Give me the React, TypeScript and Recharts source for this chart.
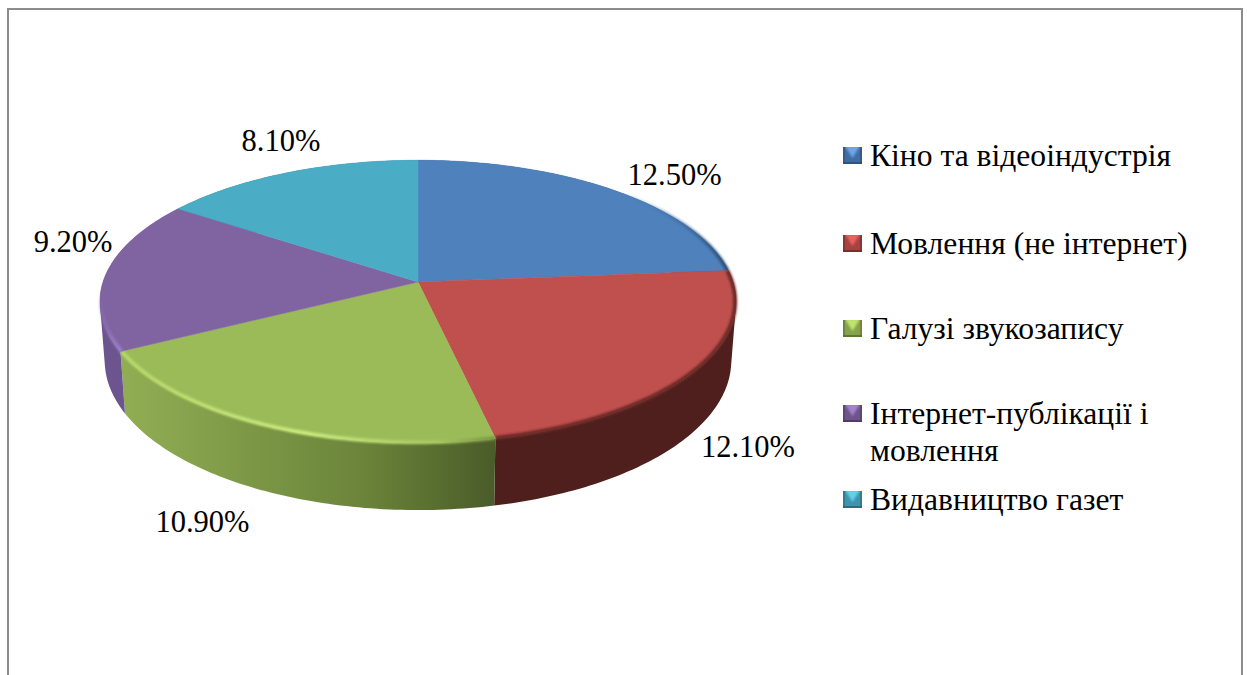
import { Legend, Pie, PieChart } from "recharts";

const categories = [
  "Кіно та відеоіндустрія",
  "Мовлення (не інтернет)",
  "Галузі звукозапису",
  "Інтернет-публікації і мовлення",
  "Видавництво газет",
];
const values = [12.5, 12.1, 10.9, 9.2, 8.1];
const colors = ["#4f81bd", "#c0504d", "#9bbb59", "#8064a2", "#4bacc6"];
const wallFills = ["#2c4a70", "#4f1f1d", "url(#wallGreen)", "#6c558f", "#2f7286"];
const rimStrokes = ["url(#rimBlue)", "#6b2a27", "url(#rimGreen)", "url(#rimPurple)", "none"];
const markerShades = [
  ["#6ea6e4", "#3f6ca3", "#2f5280", "#34598a"],
  ["#e8625e", "#a54340", "#7a2d2b", "#8a3533"],
  ["#bfe470", "#86a24b", "#5f7533", "#6e873c"],
  ["#a383cc", "#6d558b", "#4f3d67", "#5a4774"],
  ["#62d0ee", "#3f93aa", "#2b6c80", "#327c92"],
];
// label offset from the rim point at each slice's middle angle
const labelOffsets = [
  [63, -14],
  [54, 75],
  [-64, 96],
  [-33, -32],
  [-7, -32],
];
const legendTops = [137, 225, 310, 395, 481];

const table = categories.map((name, i) => ({ name, value: values[i], fill: colors[i] }));

const FONT = "'Liberation Serif', 'Times New Roman', serif";
const TILT = 0.44;
const PERSPECTIVE = 0.138;
const DEPTH = 58;
const BOTTOM_SHRINK = 0.985;

type Pt = { x: number; y: number };

// maps a point on the flat disc to the tilted picture plane
function project(cx: number, cy: number, r: number, angle: number) {
  const rad = (angle * Math.PI) / 180;
  const u = Math.cos(rad);
  const v = -Math.sin(rad);
  const w = 1 - PERSPECTIVE * v;
  return { x: cx + (r * u) / w, y: cy + (r * TILT * v) / w, w };
}

function arcPoints(cx: number, cy: number, r: number, start: number, end: number) {
  const steps = Math.max(2, Math.ceil(Math.abs(end - start)));
  const pts = [];
  for (let i = 0; i <= steps; i++) pts.push(project(cx, cy, r, start + ((end - start) * i) / steps));
  return pts;
}

const toPath = (pts: Pt[]) =>
  pts.map((p, i) => `${i ? "L" : "M"}${p.x.toFixed(2)} ${p.y.toFixed(2)}`).join(" ");

// same winding for every quad, so they merge under the nonzero rule
function wound(quad: Pt[]) {
  let area = 0;
  quad.forEach((p, i) => {
    const q = quad[(i + 1) % quad.length];
    area += p.x * q.y - q.x * p.y;
  });
  return area < 0 ? [...quad].reverse() : quad;
}

function WallSlice(props: any) {
  const { cx, cy, outerRadius, startAngle, endAngle, index } = props;
  const top = arcPoints(cx, cy, outerRadius, startAngle, endAngle);
  const bottom = top.map((p) => ({ x: cx + (p.x - cx) * BOTTOM_SHRINK, y: p.y + DEPTH / p.w }));
  const d = top
    .slice(1)
    .map((p, i) => toPath(wound([top[i], p, bottom[i + 1], bottom[i]])) + " Z")
    .join(" ");
  return <path d={d} fill={wallFills[index]} fillRule="nonzero" />;
}

function TopSlice(props: any) {
  const { cx, cy, outerRadius, startAngle, endAngle, index, fill } = props;
  const rim = arcPoints(cx, cy, outerRadius, startAngle, endAngle);
  const d = `M${cx} ${cy} ` + toPath(rim).replace("M", "L") + " Z";
  return (
    <g>
      <path d={d} fill={fill} stroke={fill} strokeWidth={0.5} />
      {rimStrokes[index] !== "none" && (
        <path
          d={toPath(arcPoints(cx, cy, outerRadius - 1, startAngle, endAngle))}
          fill="none"
          stroke={rimStrokes[index]}
          strokeWidth={4}
          filter="url(#soft)"
        />
      )}
    </g>
  );
}

function PercentLabel(props: any) {
  const { cx, cy, outerRadius, midAngle, index, value } = props;
  const p = project(cx, cy, outerRadius, midAngle);
  const [dx, dy] = labelOffsets[index];
  return (
    <text
      x={p.x + dx}
      y={p.y + dy}
      textAnchor="middle"
      dominantBaseline="central"
      fontFamily={FONT}
      fontSize={30.5}
      fill="#000"
    >
      {value.toFixed(2)}%
    </text>
  );
}

function Marker({ id, shades }: { id: number; shades: string[] }) {
  const blur = `markerBlur${id}`;
  return (
    <svg width={19} height={17} style={{ display: "block" }}>
      <defs>
        <filter id={blur} x="-20%" y="-20%" width="140%" height="140%">
          <feGaussianBlur stdDeviation={1} />
        </filter>
      </defs>
      <rect width={19} height={17} fill={shades[1]} />
      <polygon points="2,-1 17,-1 9.5,11" fill={shades[0]} filter={`url(#${blur})`} />
      <rect x={0} y={0} width={2} height={17} fill={shades[3]} />
      <rect x={17} y={0} width={2} height={17} fill={shades[3]} />
      <rect x={0} y={15} width={19} height={2} fill={shades[2]} />
    </svg>
  );
}

function LegendList({ payload }: any) {
  const rows = (payload || []).filter((entry: any) => entry.type !== "none");
  return (
    <div style={{ position: "relative", width: 0, height: 0 }}>
      {rows.map((entry: any, i: number) => (
        <div key={i} style={{ position: "absolute", left: 0, top: legendTops[i] - 136, display: "flex" }}>
          <div style={{ marginTop: 10, marginRight: 8 }}>
            <Marker id={i} shades={markerShades[i]} />
          </div>
          <div
            style={{
              width: 345,
              fontFamily: FONT,
              fontSize: 31.6,
              lineHeight: "37px",
              color: "#000",
            }}
          >
            {entry.value}
          </div>
        </div>
      ))}
    </div>
  );
}

export default function App() {
  return (
    <div
      style={{
        position: "absolute",
        left: 0,
        top: 0,
        width: 1247,
        height: 675,
        overflow: "hidden",
        background: "#fff",
      }}
    >
      <div
        style={{
          position: "absolute",
          left: 7,
          top: 8,
          width: 1232,
          height: 700,
          border: "2px solid #8c8c8c",
        }}
      />
      <PieChart
        width={1247}
        height={675}
        margin={{ top: 0, right: 0, bottom: 0, left: 0 }}
        style={{ position: "absolute", left: 0, top: 0 }}
      >
        <defs>
          <linearGradient id="wallGreen" gradientUnits="userSpaceOnUse" x1={120} y1={0} x2={494} y2={0}>
            <stop offset="0" stopColor="#92ae54" />
            <stop offset="0.35" stopColor="#7c9846" />
            <stop offset="0.65" stopColor="#6b843a" />
            <stop offset="1" stopColor="#4a5c29" />
          </linearGradient>
          <linearGradient id="rimGreen" gradientUnits="userSpaceOnUse" x1={120} y1={0} x2={494} y2={0}>
            <stop offset="0" stopColor="#b4d768" />
            <stop offset="0.5" stopColor="#c8e97e" />
            <stop offset="0.85" stopColor="#a7c662" />
            <stop offset="1" stopColor="#7a9645" />
          </linearGradient>
          <linearGradient id="rimPurple" gradientUnits="userSpaceOnUse" x1={0} y1={290} x2={0} y2={352}>
            <stop offset="0" stopColor="#8064a2" stopOpacity={0} />
            <stop offset="1" stopColor="#9c80c8" />
          </linearGradient>
          <linearGradient id="rimBlue" gradientUnits="userSpaceOnUse" x1={620} y1={0} x2={727} y2={0}>
            <stop offset="0" stopColor="#4f81bd" stopOpacity={0} />
            <stop offset="1" stopColor="#2f5078" />
          </linearGradient>
          <filter id="soft" x="-10%" y="-10%" width="120%" height="120%">
            <feGaussianBlur stdDeviation={1.1} />
          </filter>
        </defs>
        <Pie
          data={table}
          dataKey="value"
          nameKey="name"
          cx={418}
          cy={282}
          outerRadius={315}
          startAngle={90}
          endAngle={-270}
          stroke="none"
          legendType="none"
          isAnimationActive={false}
          shape={WallSlice}
        />
        <Pie
          data={table}
          dataKey="value"
          nameKey="name"
          cx={418}
          cy={282}
          outerRadius={315}
          startAngle={90}
          endAngle={-270}
          stroke="none"
          isAnimationActive={false}
          shape={TopSlice}
          label={PercentLabel}
          labelLine={false}
        />
        <Legend
          content={LegendList}
          itemSorter={null}
          layout="vertical"
          align="left"
          verticalAlign="top"
          wrapperStyle={{ position: "absolute", left: 843, top: 136, width: 0, height: 0 }}
        />
      </PieChart>
    </div>
  );
}
